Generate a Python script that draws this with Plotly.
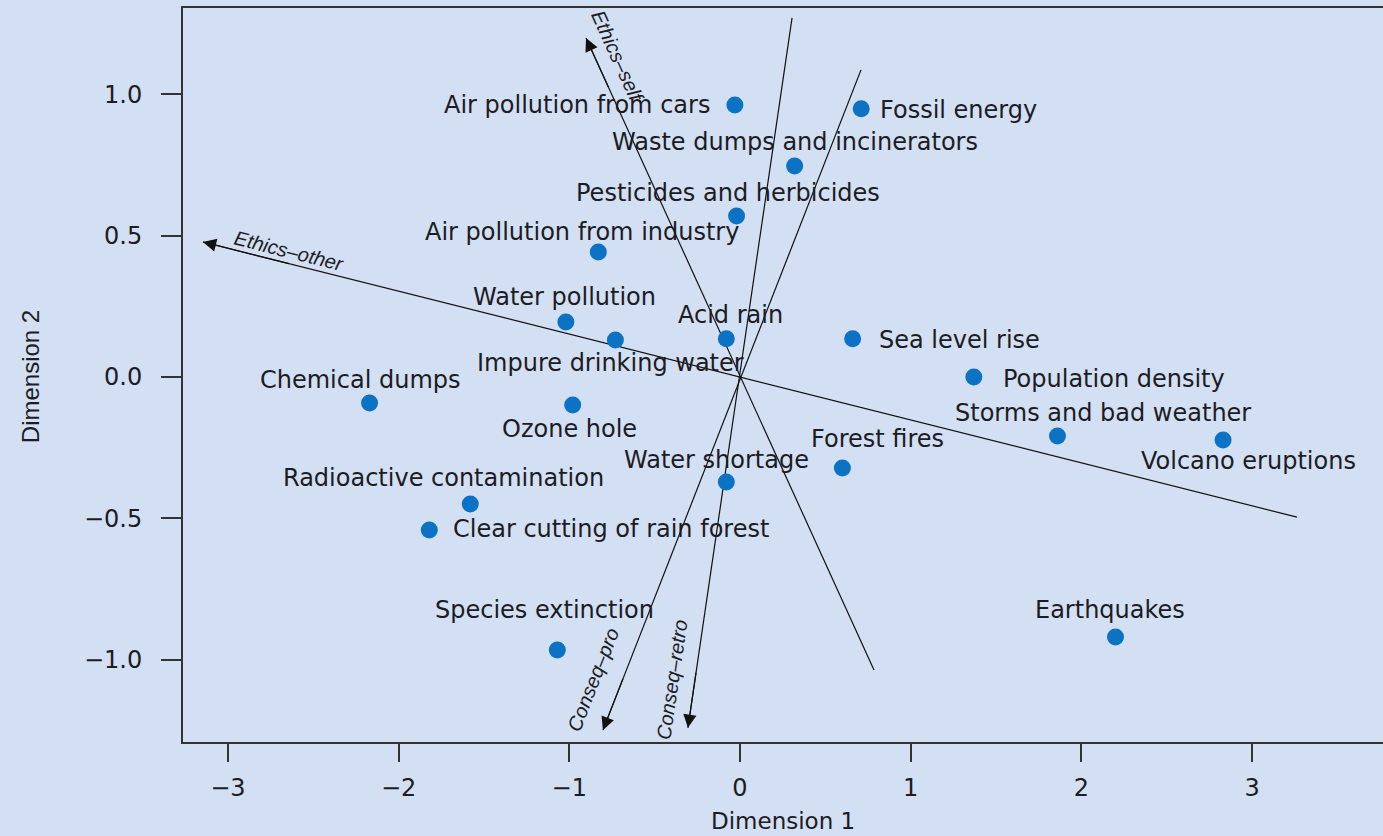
import plotly.graph_objects as go

# ---------------- data ----------------
items = [
    "Air pollution from cars", "Fossil energy", "Waste dumps and incinerators",
    "Pesticides and herbicides", "Air pollution from industry", "Water pollution",
    "Impure drinking water", "Acid rain", "Sea level rise", "Population density",
    "Chemical dumps", "Ozone hole", "Storms and bad weather", "Volcano eruptions",
    "Forest fires", "Water shortage", "Radioactive contamination",
    "Clear cutting of rain forest", "Species extinction", "Earthquakes",
]
dim1 = [-0.03, 0.71, 0.32, -0.02, -0.83, -1.02, -0.73, -0.08, 0.66, 1.37,
        -2.17, -0.98, 1.86, 2.83, 0.60, -0.08, -1.58, -1.82, -1.07, 2.20]
dim2 = [0.963, 0.949, 0.747, 0.570, 0.442, 0.195, 0.131, 0.135, 0.135, 0.0,
        -0.092, -0.099, -0.209, -0.223, -0.322, -0.372, -0.450, -0.542, -0.966, -0.920]

# biplot property vectors (arrow tip and opposite end, in Dimension units)
vec_names = ["Ethics\u2013other", "Ethics\u2013self", "Conseq\u2013pro", "Conseq\u2013retro"]
vec_tip_x = [-3.146, -0.902, -0.803, -0.305]
vec_tip_y = [0.478, 1.200, -1.250, -1.242]
vec_end_x = [3.263, 0.785, 0.709, 0.305]
vec_end_y = [-0.496, -1.037, 1.087, 1.271]

x_tickvals = [-3, -2, -1, 0, 1, 2, 3]
x_ticktext = ["\u22123", "\u22122", "\u22121", "0", "1", "2", "3"]
y_tickvals = [-1.0, -0.5, 0.0, 0.5, 1.0]
y_ticktext = ["\u22121.0", "\u22120.5", "0.0", "0.5", "1.0"]

# ---------------- label placement (pixels relative to point) ----------------
label_anchor = ["right", "left", "center", "center", "center", "center",
                "center", "center", "left", "left",
                "center", "center", "center", "center", "center", "center", "center",
                "left", "center", "center"]
label_dx = [-23, 17, 0, -9, -16, -1, -5, 4, 24, 27,
            -9, -3, 46, 25, 35, -10, -27, 22, -13, -6]
label_dy = [0, -1, 24, 23, 20, 25, -23, 24, -1, -2,
            23, -24, 23, -21, 29, 22, 26, 1, 40, 27]

# vector label positions (data units) and rotations
vlab_x = [-2.64, -0.72, -0.861, -0.398]
vlab_y = [0.446, 1.135, -1.073, -1.073]
vlab_angle = [14.1, 65.5, -68.6, -81.7]

BG = "#d3dff2"
DOT = "#0b72c4"
TXT = "#1c1c24"
FONT = "DejaVu Sans, Arial, sans-serif"

fig = go.Figure()

# vectors as full lines
for i in range(len(vec_names)):
    fig.add_trace(go.Scatter(
        x=[vec_tip_x[i], vec_end_x[i]], y=[vec_tip_y[i], vec_end_y[i]],
        mode="lines", line=dict(color="#111111", width=1.2),
        hoverinfo="skip", showlegend=False))

fig.add_trace(go.Scatter(
    x=dim1, y=dim2, mode="markers", text=items,
    marker=dict(color=DOT, size=17, line=dict(width=0)),
    hovertemplate="%{text}<extra></extra>", showlegend=False))

annotations = []
# arrowheads
for i in range(len(vec_names)):
    tx, ty = vec_tip_x[i], vec_tip_y[i]
    ex, ey = vec_end_x[i], vec_end_y[i]
    bx = tx + (ex - tx) * 0.08
    by = ty + (ey - ty) * 0.08
    annotations.append(dict(
        x=tx, y=ty, ax=bx, ay=by, xref="x", yref="y", axref="x", ayref="y",
        text="", showarrow=True, arrowhead=2, arrowsize=2.2, arrowwidth=1.2,
        arrowcolor="#111111"))
    annotations.append(dict(
        x=vlab_x[i], y=vlab_y[i], xref="x", yref="y", text=vec_names[i],
        showarrow=False, textangle=vlab_angle[i],
        font=dict(family="Liberation Sans, Arial, sans-serif", size=20,
                  color=TXT, style="italic")))

# point labels
for i, name in enumerate(items):
    annotations.append(dict(
        x=dim1[i], y=dim2[i], xref="x", yref="y", text=name, showarrow=False,
        xanchor=label_anchor[i], yanchor="middle",
        xshift=label_dx[i], yshift=label_dy[i],
        font=dict(family=FONT, size=24, color=TXT)))

# axis titles
annotations.append(dict(
    x=0.5, y=-0.108, xref="paper", yref="paper", text="Dimension 1",
    showarrow=False, xanchor="center", yanchor="middle",
    font=dict(family=FONT, size=23, color=TXT)))
annotations.append(dict(
    x=-0.1275, y=0.497, xref="paper", yref="paper", text="Dimension 2",
    showarrow=False, xanchor="center", yanchor="middle", textangle=-90,
    font=dict(family="Liberation Sans, Arial, sans-serif", size=24, color=TXT)))

fig.update_layout(
    width=1383, height=836,
    margin=dict(l=183, r=0, t=8, b=94),
    paper_bgcolor=BG, plot_bgcolor=BG,
    annotations=annotations,
    showlegend=False,
)
fig.update_xaxes(
    range=[-3.263, 3.767], tickvals=x_tickvals, ticktext=x_ticktext,
    showgrid=False, zeroline=False, showline=True, linecolor="#333333",
    linewidth=2, mirror=True, ticks="outside", ticklen=18, tickwidth=1.5,
    tickcolor="#333333", ticklabelstandoff=5,
    tickfont=dict(family=FONT, size=24, color=TXT))
fig.update_yaxes(
    range=[-1.292, 1.306], tickvals=y_tickvals, ticktext=y_ticktext,
    showgrid=False, zeroline=False, showline=True, linecolor="#333333",
    linewidth=2, mirror=False, ticks="outside", ticklen=20, tickwidth=1.5,
    tickcolor="#333333", ticklabelstandoff=14,
    tickfont=dict(family=FONT, size=24, color=TXT))

fig.write_html("out.html", config={"displayModeBar": False},
               post_script="document.body.style.margin='0';document.body.style.overflow='hidden';")
